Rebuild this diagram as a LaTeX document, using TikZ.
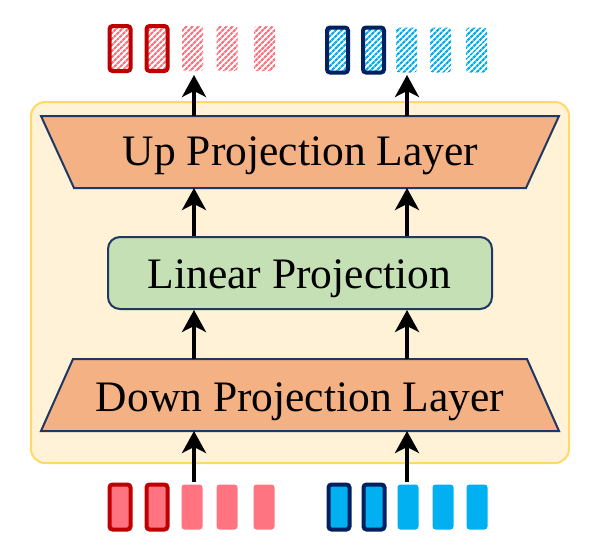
\documentclass[tikz,border=0pt]{standalone}
\usepackage{fontspec}
\setmainfont{Liberation Serif}
\usetikzlibrary{arrows.meta,patterns.meta}
\definecolor{tokR}{HTML}{FF7480}
\definecolor{bordR}{HTML}{C00000}
\definecolor{tokB}{HTML}{00B0F0}
\definecolor{bordB}{HTML}{002060}
\definecolor{trapF}{HTML}{F4B183}
\definecolor{trapD}{HTML}{203864}
\definecolor{linF}{HTML}{C5E0B4}
\definecolor{panF}{HTML}{FFF2D6}
\definecolor{panD}{HTML}{FFD966}
\tikzset{
  tok/.style={minimum width=21pt, minimum height=45pt, inner sep=0pt, rounded corners=3pt},
  rplain/.style={tok, fill=tokR},
  rbord/.style={tok, fill=tokR, draw=bordR, line width=4pt},
  rhatch/.style={tok, pattern={Lines[angle=45,distance=4pt,line width=2.3pt]}, pattern color=tokR},
  rhbord/.style={rhatch, draw=bordR, line width=4pt},
  bplain/.style={tok, fill=tokB},
  bbord/.style={tok, fill=tokB, draw=bordB, line width=4pt},
  bhatch/.style={tok, pattern={Lines[angle=45,distance=4pt,line width=2.3pt]}, pattern color=tokB},
  bhbord/.style={bhatch, draw=bordB, line width=4pt},
  trap/.style={fill=trapF, draw=trapD, line width=2pt, line join=miter},
  lbl/.style={font=\fontsize{43.5}{50}\selectfont, inner sep=0pt, anchor=base},
  arr/.style={-{Stealth[length=22pt,width=24pt,inset=6pt]}, line width=3.5pt},
}
\begin{document}
\begin{tikzpicture}[x=1pt,y=-1pt]
\useasboundingbox (0,0) rectangle (597,555);
% panel
\node[fill=panF, draw=panD, line width=2pt, rounded corners=14pt, minimum width=538pt, minimum height=361pt, inner sep=0pt] (panel) at (300,282.5) {};
% up projection trapezoid
\coordinate (uTL) at (41,116); \coordinate (uTR) at (559,116);
\coordinate (uBR) at (526,188); \coordinate (uBL) at (74,188);
\draw[trap] (uTL) -- (uTR) -- (uBR) -- (uBL) -- cycle;
\node[lbl] (up) at (300.5,165) {Up Projection Layer};
% linear projection
\node[fill=linF, draw=trapD, line width=2pt, rounded corners=12pt, minimum width=384pt, minimum height=72pt, inner sep=0pt] (lin) at (300,273) {};
\node[lbl] (linT) at (299.5,288) {Linear Projection};
% down projection trapezoid
\coordinate (dTL) at (73,359); \coordinate (dTR) at (527,359);
\coordinate (dBR) at (559,431); \coordinate (dBL) at (41,431);
\draw[trap] (dTL) -- (dTR) -- (dBR) -- (dBL) -- cycle;
\node[lbl] (down) at (300,411.5) {Down Projection Layer};
% bottom tokens
\node[rbord]  (r1) at (120,507) {};
\node[rbord]  (r2) at (157,507) {};
\node[rplain] (r3) at (192,507) {};
\node[rplain] (r4) at (227,507) {};
\node[rplain] (r5) at (264,507) {};
\node[bbord]  (b1) at (339,507) {};
\node[bbord]  (b2) at (374,507) {};
\node[bplain] (b3) at (408,507) {};
\node[bplain] (b4) at (443,507) {};
\node[bplain] (b5) at (477,507) {};
% top tokens
\node[rhbord] (tr1) at (120,48.5) {};
\node[rhbord] (tr2) at (157,48.5) {};
\node[rhatch] (tr3) at (192.5,48.5) {};
\node[rhatch] (tr4) at (227,48.5) {};
\node[rhatch] (tr5) at (264.5,48.5) {};
\node[bhbord] (tb1) at (337.5,50) {};
\node[bhbord] (tb2) at (373.5,50) {};
\node[bhatch] (tb3) at (406.5,50) {};
\node[bhatch] (tb4) at (440.5,50) {};
\node[bhatch] (tb5) at (476.5,50) {};
% arrow columns
\coordinate (c1) at (194,0); \coordinate (c2) at (407,0);
\coordinate (in1) at (194,482); \coordinate (in2) at (407,482);
\coordinate (dt1) at (194,359); \coordinate (dt2) at (407,359);
\coordinate (ut1) at (194,116); \coordinate (ut2) at (407,116);
\coordinate (o1) at (194,75); \coordinate (o2) at (407,75);
\draw[arr] (in1) -- (dBL -| c1);
\draw[arr] (in2) -- (dBL -| c2);
\draw[arr] (dt1) -- (lin.south -| c1);
\draw[arr] (dt2) -- (lin.south -| c2);
\draw[arr] (lin.north -| c1) -- (uBL -| c1);
\draw[arr] (lin.north -| c2) -- (uBL -| c2);
\draw[arr] (ut1) -- (o1);
\draw[arr] (ut2) -- (o2);
\end{tikzpicture}
\end{document}
